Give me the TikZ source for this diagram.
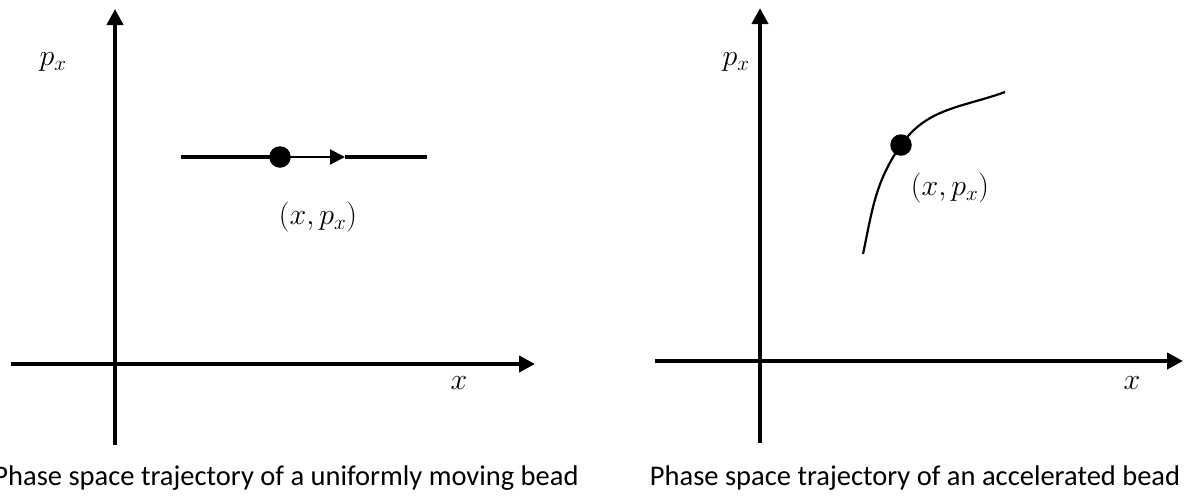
\RequirePackage{fix-cm}
\documentclass[tikz,border=0pt]{standalone}
\usepackage{fontspec}
\setmainfont{Carlito}
\usetikzlibrary{arrows.meta}
\begin{document}
\begin{tikzpicture}[x=1pt,y=-1pt,
  axis/.style={line width=4pt,-{Triangle[width=16pt,length=16pt]}},
  traj/.style={line width=3.5pt},
  thinarrow/.style={line width=2pt,-{Triangle[width=15pt,length=15pt]}},
  curve/.style={line width=2.2pt},
  bead/.style={circle,fill=black,inner sep=0pt,minimum size=21.5pt},
  mlabel/.style={font=\fontsize{30}{34}\selectfont,inner sep=0pt},
  capt/.style={font=\fontsize{28.5}{32}\selectfont,anchor=base,inner sep=0pt}]
\useasboundingbox (0,0) rectangle (1188,499);
% ---------- left panel ----------
\coordinate (Lxs) at (11,364);
\coordinate (Lxe) at (535,364);
\coordinate (Lys) at (115,445);
\coordinate (Lye) at (115,9);
\draw[axis] (Lxs) -- (Lxe);
\draw[axis] (Lys) -- (Lye);
\coordinate (La) at (181,157);
\coordinate (Lb) at (427,157);
\coordinate (Larr) at (345,157);
\node[bead] (Lbead) at (280,157) {};
\draw[traj] (La) -- (Lbead.center);
\draw[thinarrow] (Lbead.center) -- (Larr);
\draw[traj] (Larr) -- (Lb);
\node[mlabel] (Lpx) at (53,62) {$p_x$};
\node[mlabel] (Lx) at (459,383) {$x$};
\node[mlabel] (Lxp) at (318,217) {$(x,p_x)$};
\node[capt] (Lcap) at (286,485) {Phase space trajectory of a uniformly moving bead};
% ---------- right panel ----------
\coordinate (Rxs) at (655,361);
\coordinate (Rxe) at (1183,361);
\coordinate (Rys) at (760,443);
\coordinate (Rye) at (760,8);
\draw[axis] (Rxs) -- (Rxe);
\draw[axis] (Rys) -- (Rye);
\coordinate (Ra) at (863,254);
\coordinate (Rb) at (1005,92);
\node[bead] (Rbead) at (901,145) {};
\draw[curve] (Ra) to[out=78,in=235] (Rbead.center) to[out=55,in=200] (Rb);
\node[mlabel] (Rpx) at (736,62) {$p_x$};
\node[mlabel] (Rx) at (1132,383) {$x$};
\node[mlabel] (Rxp) at (950,188) {$(x,p_x)$};
\node[capt] (Rcap) at (915,485) {Phase space trajectory of an accelerated bead};
\end{tikzpicture}
\end{document}
